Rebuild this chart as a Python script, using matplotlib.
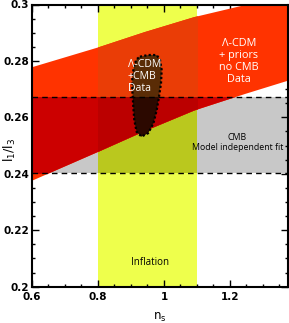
import matplotlib
matplotlib.use("Agg")
import matplotlib.pyplot as plt
from matplotlib.patches import Rectangle, Polygon
from matplotlib.ticker import MultipleLocator, FixedLocator, FixedFormatter
import numpy as np

# Lambda-CDM + priors (no CMB) band: edges sampled along n_s
band_x = [0.60, 0.80, 0.94, 1.09, 1.245, 1.375]
band_lo = [0.2378, 0.2480, 0.2553, 0.2626, 0.2685, 0.2732]
band_hi = [0.2780, 0.2850, 0.2904, 0.2957, 0.3000, 0.3035]

# CMB model independent fit range in l1/l3
cmb_lo, cmb_hi = 0.2403, 0.2671
# inflation range in n_s
infl_lo, infl_hi = 0.80, 1.10

# Lambda-CDM + CMB data contour
blob_x = [0.927, 0.952, 0.978, 0.988, 0.993, 0.991, 0.985, 0.978, 0.968, 0.952,
          0.932, 0.917, 0.910, 0.907, 0.904, 0.904, 0.910, 0.917]
blob_y = [0.2815, 0.2821, 0.2821, 0.2803, 0.2768, 0.2721, 0.2673, 0.2626, 0.2579, 0.2544,
          0.2532, 0.2549, 0.2591, 0.2638, 0.2697, 0.2744, 0.2786, 0.2806]

xticks = [0.6, 0.8, 1.0, 1.2]
xticklabels = ["0.6", "0.8", "1", "1.2"]
yticks = [0.2, 0.22, 0.24, 0.26, 0.28, 0.3]
yticklabels = ["0.2", "0.22", "0.24", "0.26", "0.28", "0.3"]

C_GRAY = "#c8c8c8"
C_YEL = "#eeff4c"
C_OLIVE = "#bac81e"
C_RED = "#ff3300"
C_RED_GRAY = "#cc0000"
C_RED_YEL = "#ea3d06"
C_RED_BOTH = "#bb0000"
C_BLOB = "#5a2c06"
C_BLOB_GRAY = "#2c0900"

fig = plt.figure(figsize=(2.89, 3.23), dpi=100)
ax = fig.add_axes([32/289, 1-286.7/323, 255.7/289, 282.2/323])
xmin, xmax = 0.6, 1.375
ymin, ymax = 0.2, 0.3
ax.set_xlim(xmin, xmax)
ax.set_ylim(ymin, ymax)

# base regions
ax.add_patch(Rectangle((xmin, cmb_lo), xmax - xmin, cmb_hi - cmb_lo, color=C_GRAY, lw=0, zorder=1))
ax.add_patch(Rectangle((infl_lo, ymin), infl_hi - infl_lo, ymax - ymin, color=C_YEL, lw=0, zorder=1))
ax.add_patch(Rectangle((infl_lo, cmb_lo), infl_hi - infl_lo, cmb_hi - cmb_lo, color=C_OLIVE, lw=0, zorder=1.1))

def clip_rect(x0, y0, x1, y1):
    return Rectangle((x0, y0), x1 - x0, y1 - y0, transform=ax.transData, fill=False, lw=0)

regions = [
    (None, C_RED, 2),
    ((xmin, cmb_lo, xmax, cmb_hi), C_RED_GRAY, 2.1),
    ((infl_lo, ymin, infl_hi, ymax), C_RED_YEL, 2.2),
    ((infl_lo, cmb_lo, infl_hi, cmb_hi), C_RED_BOTH, 2.3),
]
for clip, col, z in regions:
    pc = ax.fill_between(band_x, band_lo, band_hi, color=col, lw=0, zorder=z)
    if clip is not None:
        pc.set_clip_path(clip_rect(*clip))

blob_pts = np.column_stack([blob_x, blob_y])
ax.add_patch(Polygon(blob_pts, closed=True, facecolor=C_BLOB, lw=0, zorder=3))
b2 = Polygon(blob_pts, closed=True, facecolor=C_BLOB_GRAY, lw=0, zorder=3.1)
ax.add_patch(b2)
b2.set_clip_path(clip_rect(xmin, cmb_lo, xmax, cmb_hi))
ax.add_patch(Polygon(blob_pts, closed=True, fill=False, edgecolor="black",
                     lw=1.6, linestyle=(0, (1, 1)), zorder=4))

ax.axhline(cmb_hi, color="black", lw=1.0, ls=(0, (4, 3)), zorder=5)
ax.axhline(cmb_lo, color="black", lw=1.0, ls=(0, (4, 3)), zorder=5)

fam = ["Open Sans", "DejaVu Sans"]
ax.text(0.890, 0.2745, "Λ-CDM\n+CMB\nData", color="white", fontsize=7.6, family=fam,
        ha="left", va="center", linespacing=1.15, zorder=6)
ax.text(1.227, 0.2798, "Λ-CDM\n+ priors\nno CMB\nData", color="white", fontsize=7.8,
        family=fam, ha="center", va="center", linespacing=1.15, zorder=6)
ax.text(1.223, 0.2512, "CMB\nModel independent fit", color="black", fontsize=6.3,
        family=fam, ha="center", va="center", linespacing=1.2, zorder=6)
ax.text(0.958, 0.2085, "Inflation", color="black", fontsize=7.0, family=fam,
        ha="center", va="center", zorder=6)

ax.xaxis.set_major_locator(FixedLocator(xticks))
ax.xaxis.set_major_formatter(FixedFormatter(xticklabels))
ax.yaxis.set_major_locator(FixedLocator(yticks))
ax.yaxis.set_major_formatter(FixedFormatter(yticklabels))
ax.xaxis.set_minor_locator(MultipleLocator(0.05))
ax.yaxis.set_minor_locator(MultipleLocator(0.005))
ax.tick_params(which="both", direction="in", top=True, right=True, width=1.0, colors="black")
ax.tick_params(which="major", length=5)
ax.tick_params(which="minor", length=2.5)
ax.tick_params(axis="both", which="major", labelsize=7.5, pad=2)
ax.tick_params(axis="x", which="major", pad=3.5)
for lab in ax.get_xticklabels() + ax.get_yticklabels():
    lab.set_fontweight("bold")
for s in ax.spines.values():
    s.set_linewidth(1.5)
    s.set_zorder(10)

ax.set_xlabel("n$_\\mathrm{s}$", fontsize=8.5, labelpad=7)
ax.set_ylabel("l$_1$/l$_3$", fontsize=9)
ax.yaxis.set_label_coords(-0.055, 0.485)

fig.savefig("out.png", dpi=100)
